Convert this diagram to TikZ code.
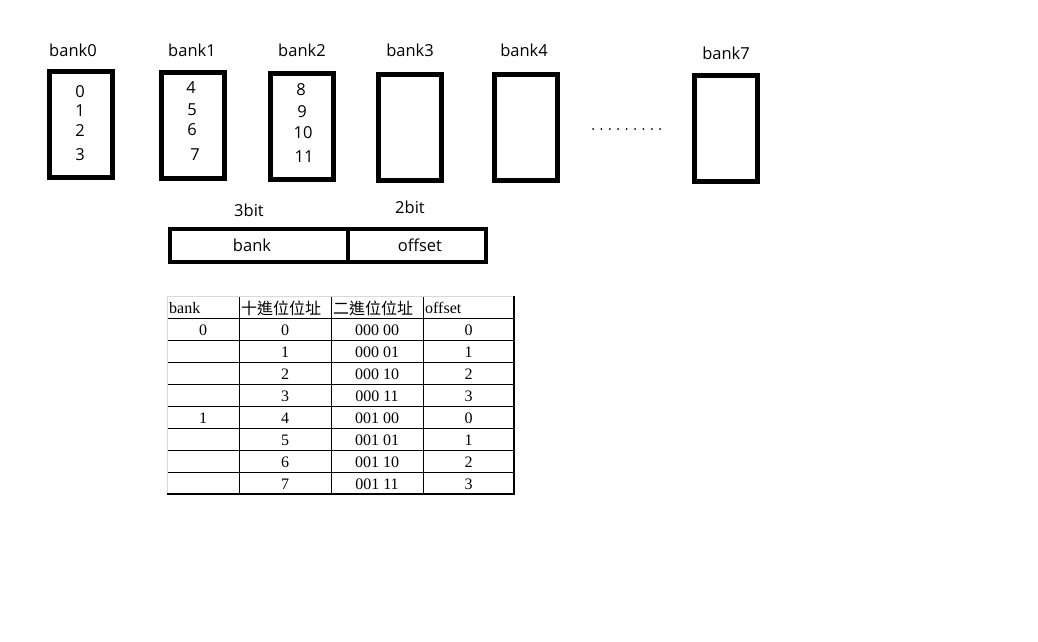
\documentclass[tikz,border=0pt]{standalone}
\usepackage{fontspec}
\setmainfont{Open Sans}
\newfontfamily\tablefont{Liberation Serif}
\newfontfamily\cjkfont{Noto Sans CJK TC}
\usepackage{tikz}
\usetikzlibrary{positioning}

\begin{document}
\begin{tikzpicture}[x=1pt, y=-1pt,
        bankbox/.style={rectangle, draw=black, line width=5pt, minimum width=63pt, minimum height=106pt, inner sep=0pt},
        banklabel/.style={font=\fontsize{16.5}{19}\selectfont, inner sep=0pt},
        entry/.style={font=\fontsize{16.5}{19}\selectfont, inner sep=0pt},
        field/.style={rectangle, draw=black, line width=4pt, minimum height=33pt, inner sep=0pt, font=\fontsize{16.5}{19}\selectfont},
        cell/.style={font=\fontsize{16}{18}\tablefont, inner sep=0pt},
        grid/.style={line width=0.8pt}
    ]
    \useasboundingbox (0,0) rectangle (1038,642);

    % Banks
    \foreach \n/\x/\y/\lx/\ly in {0/81/124/73/50, 1/193/125/192/50, 2/301.5/126/302/50, 3/410/127/410/50, 4/525.5/127/524/50, 7/725.5/128/726/53} {
        \node[bankbox] (b\n) at (\x,\y) {};
        \node[banklabel] (l\n) at (\lx,\ly) {bank\n};
    }

    % Addresses inside the banks
    \foreach \v/\x/\y in {0/80/92, 1/80/111, 2/80/131, 3/80/155, 4/191/88, 5/192/110, 6/192/130, 7/195/155, 8/301/90, 9/302/112, 10/303/133, 11/304/157} {
        \node[entry] (v\v) at (\x,\y) {\v};
    }

    % Dots
    \foreach \i in {0,...,8} {
        \fill (593+\i*8.4,129) circle (1pt);
    }

    % Address fields
    \node[field, minimum width=178pt] (bankfield) at (259,245.5) {\hspace*{-14pt}bank};
    \node[field, minimum width=138pt] (offsetfield) at (417,245.5) {\hspace*{6pt}offset};
    \node[banklabel] (bits3) at (249,210) {3bit};
    \node[banklabel] (bits2) at (410,207) {2bit};

    % Table
    \foreach \y in {318,340,...,472} {
        \draw[grid] (167,\y) -- (514,\y);
    }
    \foreach \x in {239,331,423} {
        \draw[grid] (\x,296) -- (\x,494);
    }
    \draw[gray!30, line width=1pt] (167,494) -- (167,296) -- (514,296);
    \draw[line width=2.5pt] (167,494) -- (514,494) -- (514,296);

    \node[cell, anchor=west] (hbank) at (169,308) {bank};
    \node[cell, anchor=west] (hdec) at (241,308) {\cjkfont 十進位位址};
    \node[cell, anchor=west] (hbin) at (333,308) {\cjkfont 二進位位址};
    \node[cell, anchor=west] (hoff) at (425,308) {offset};

    \foreach \r/\dec/\bin/\off in {0/0/000 00/0, 1/1/000 01/1, 2/2/000 10/2, 3/3/000 11/3, 4/4/001 00/0, 5/5/001 01/1, 6/6/001 10/2, 7/7/001 11/3} {
        \node[cell] (dec\r) at (285,330+22*\r) {\dec};
        \node[cell] (bin\r) at (377,330+22*\r) {\bin};
        \node[cell] (off\r) at (468.5,330+22*\r) {\off};
    }
    \node[cell] (bk0) at (203,330) {0};
    \node[cell] (bk1) at (203,418) {1};
\end{tikzpicture}
\end{document}
